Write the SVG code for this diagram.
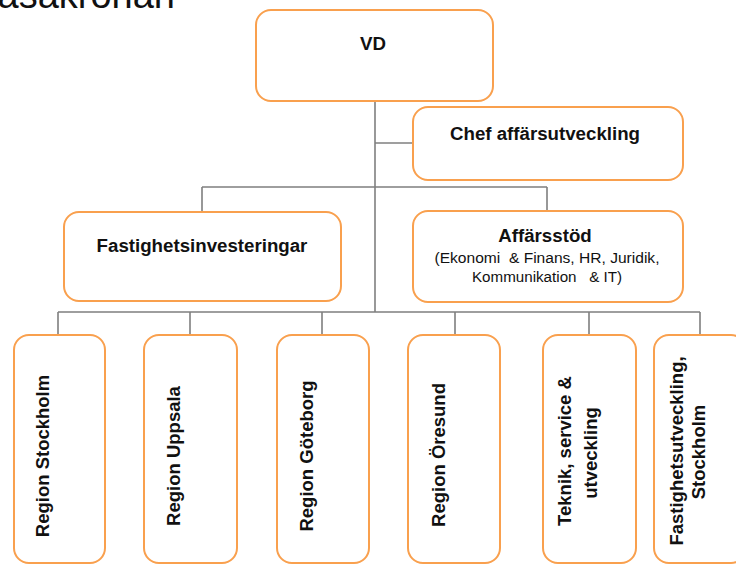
<svg xmlns="http://www.w3.org/2000/svg" width="736" height="565" viewBox="0 0 736 565">
  <style>
    .box { fill: #ffffff; stroke: #f9a04e; stroke-width: 2; }
    .wire { fill: none; stroke: #7f7f7f; stroke-width: 1.6; }
    .head { font-family: "Liberation Sans", Arial, sans-serif; font-weight: bold; font-size: 18.7px; fill: #111111; text-anchor: middle; }
    .small { font-family: "Liberation Sans", Arial, sans-serif; font-size: 14px; fill: #111111; text-anchor: middle; }
    .unit { font-family: "Liberation Sans", Arial, sans-serif; font-weight: bold; font-size: 18.5px; fill: #111111; text-anchor: middle; }
    .title { font-family: "Liberation Sans", Arial, sans-serif; font-size: 38px; fill: #111111; }
  </style>

  <!-- page heading, partly above the top edge -->
  <text class="title" x="-25" y="8">Vasakronan</text>

  <!-- connectors -->
  <g id="connectors">
    <path class="wire" d="M375 101 V312"/>
    <path class="wire" d="M375 143 H413"/>
    <path class="wire" d="M202 187 H547 M202 187 V212 M547 187 V211"/>
    <path class="wire" d="M58 312 H700 M58 312 V335 M190 312 V335 M322 312 V335 M455 312 V335 M589 312 V335 M700 312 V335"/>
  </g>

  <g id="vd">
    <rect class="box" x="256" y="10" width="237" height="91" rx="15"/>
    <text class="head" x="373" y="50">VD</text>
  </g>

  <g id="chef-affarsutveckling">
    <rect class="box" x="413" y="107" width="270" height="73" rx="15"/>
    <text class="head" x="545" y="140">Chef affärsutveckling</text>
  </g>

  <g id="fastighetsinvesteringar">
    <rect class="box" x="64" y="212" width="277" height="89" rx="15"/>
    <text class="head" x="202" y="252">Fastighetsinvesteringar</text>
  </g>

  <g id="affarsstod">
    <rect class="box" x="413" y="211" width="270" height="91" rx="15"/>
    <text class="head" x="545" y="242">Affärsstöd</text>
    <text class="small" x="547" y="263" textLength="225" lengthAdjust="spacingAndGlyphs" xml:space="preserve">(Ekonomi  &amp; Finans, HR, Juridik,</text>
    <text class="small" x="547" y="282" textLength="150" lengthAdjust="spacingAndGlyphs" xml:space="preserve">Kommunikation   &amp; IT)</text>
  </g>

  <g id="region-stockholm">
    <rect class="box" x="14" y="335" width="91" height="228" rx="15"/>
    <text class="unit" transform="translate(49 456) rotate(-90)">Region Stockholm</text>
  </g>

  <g id="region-uppsala">
    <rect class="box" x="144" y="335" width="93" height="228" rx="15"/>
    <text class="unit" transform="translate(180 456) rotate(-90)">Region Uppsala</text>
  </g>

  <g id="region-goteborg">
    <rect class="box" x="277" y="335" width="92" height="228" rx="15"/>
    <text class="unit" transform="translate(313 456) rotate(-90)">Region Göteborg</text>
  </g>

  <g id="region-oresund">
    <rect class="box" x="408" y="335" width="92" height="228" rx="15"/>
    <text class="unit" transform="translate(445 455) rotate(-90)">Region Öresund</text>
  </g>

  <g id="teknik-service-utveckling">
    <rect class="box" x="543" y="335" width="93" height="228" rx="15"/>
    <text class="unit" transform="translate(571 451) rotate(-90)">Teknik, service &amp;</text>
    <text class="unit" transform="translate(597 453) rotate(-90)">utveckling</text>
  </g>

  <g id="fastighetsutveckling-stockholm">
    <rect class="box" x="654" y="335" width="92" height="228" rx="15"/>
    <text class="unit" transform="translate(683 451) rotate(-90)">Fastighetsutveckling,</text>
    <text class="unit" transform="translate(705 452) rotate(-90)">Stockholm</text>
  </g>
</svg>
